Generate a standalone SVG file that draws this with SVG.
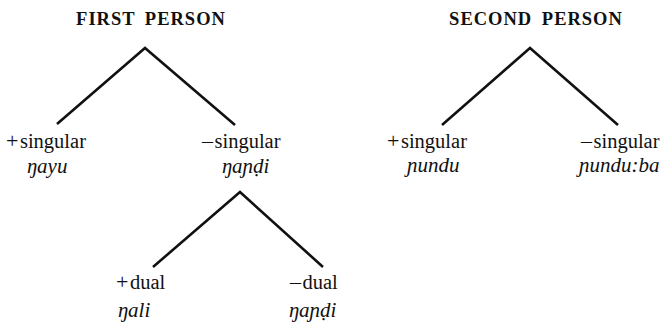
<svg xmlns="http://www.w3.org/2000/svg" width="665" height="323" viewBox="0 0 665 323">
  <style>
    .title { font-family: "Liberation Serif", "DejaVu Serif", serif; font-size: 18.5px; font-weight: bold; letter-spacing: 1px; word-spacing: 4px; fill: #111; }
    .feat { font-family: "Liberation Serif", "DejaVu Serif", serif; font-size: 20.5px; fill: #111; }
    .sign { font-size: 22px; }
    .form { font-family: "Liberation Serif", "DejaVu Serif", serif; font-size: 21px; font-style: italic; fill: #111; }
    .edge { stroke: #111; stroke-width: 2.6; fill: none; stroke-linecap: butt; stroke-linejoin: miter; }
  </style>
  <rect width="665" height="323" fill="#fff"/>

  <g id="connectors">
    <path class="edge" d="M57,124 L145,48 L235,125"/>
    <path class="edge" d="M153,267 L240,192 L323,267"/>
    <path class="edge" d="M442,125 L530,48 L618,125"/>
  </g>

  <g id="first-person">
    <text class="title" x="151" y="25" text-anchor="middle">FIRST PERSON</text>
  </g>
  <g id="first-sg">
    <text class="feat" x="6" y="148"><tspan class="sign">+</tspan><tspan dx="1.5">singular</tspan></text>
    <text class="form" x="27" y="173">ŋayu</text>
  </g>
  <g id="first-nonsg">
    <text class="feat" x="202" y="148"><tspan class="sign">–</tspan><tspan dx="1.5">singular</tspan></text>
    <text class="form" x="222" y="173">ŋaɲḍi</text>
  </g>
  <g id="first-dual">
    <text class="feat" x="116" y="289"><tspan class="sign">+</tspan><tspan dx="1.5">dual</tspan></text>
    <text class="form" x="118" y="317">ŋali</text>
  </g>
  <g id="first-plural">
    <text class="feat" x="290" y="289"><tspan class="sign">–</tspan><tspan dx="1.5">dual</tspan></text>
    <text class="form" x="289" y="317">ŋaɲḍi</text>
  </g>

  <g id="second-person">
    <text class="title" x="536" y="25" text-anchor="middle">SECOND PERSON</text>
  </g>
  <g id="second-sg">
    <text class="feat" x="387" y="148"><tspan class="sign">+</tspan><tspan dx="1.5">singular</tspan></text>
    <text class="form" x="407" y="172">ɲundu</text>
  </g>
  <g id="second-nonsg">
    <text class="feat" x="581" y="148"><tspan class="sign">–</tspan><tspan dx="1.5">singular</tspan></text>
    <text class="form" x="579" y="172">ɲundu:ba</text>
  </g>
</svg>
